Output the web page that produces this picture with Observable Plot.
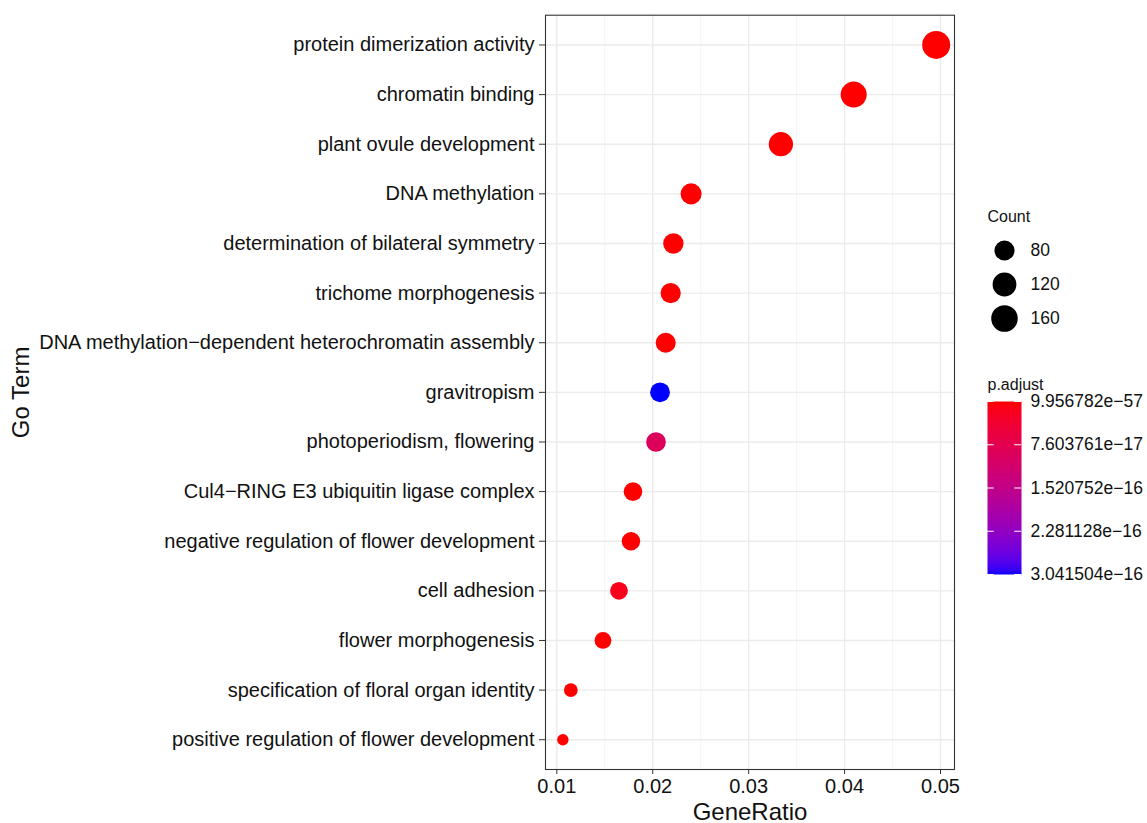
<!DOCTYPE html>
<html>
<head>
<meta charset="utf-8">
<script src="https://cdn.jsdelivr.net/npm/d3@7"></script>
<script src="https://cdn.jsdelivr.net/npm/@observablehq/plot@0.6"></script>
<style>
  html, body { margin: 0; padding: 0; background: #fff; }
  #wrap { position: relative; width: 1147px; height: 823px; font-family: "Liberation Sans", Arial, sans-serif; }
  #main { position: absolute; left: 0; top: 0; }
  #sizeLegend { position: absolute; left: 970px; top: 200px; }
  #colorLegend { position: absolute; left: 970px; top: 370px; }
</style>
</head>
<body>
<div id="wrap">
  <div id="main"></div>
  <div id="sizeLegend"></div>
  <div id="colorLegend"></div>
</div>
<script>
// ---- data (top to bottom) ----
const terms = [
  "protein dimerization activity",
  "chromatin binding",
  "plant ovule development",
  "DNA methylation",
  "determination of bilateral symmetry",
  "trichome morphogenesis",
  "DNA methylation\u2212dependent heterochromatin assembly",
  "gravitropism",
  "photoperiodism, flowering",
  "Cul4\u2212RING E3 ubiquitin ligase complex",
  "negative regulation of flower development",
  "cell adhesion",
  "flower morphogenesis",
  "specification of floral organ identity",
  "positive regulation of flower development"
];
const geneRatio = [0.04955, 0.04095, 0.03336, 0.02400, 0.02215, 0.02187, 0.02135, 0.02076, 0.02034, 0.01794, 0.01773, 0.01648, 0.01481, 0.01146, 0.01063];
const counts = [184, 152, 126, 89, 82, 81, 79, 77, 76, 67, 66, 61, 55, 43, 40];
const pAdjust = [9.956782e-57, 1.2e-50, 3.5e-40, 2.1e-35, 4.6e-30, 7.8e-28, 5.3e-32, 3.041504e-16, 9.2e-17, 1.8e-19, 6.5e-21, 1.6e-17, 2.4e-22, 3.7e-24, 8.1e-23];

const xTicks = [0.01, 0.02, 0.03, 0.04, 0.05];
const xMinorTicks = [0.015, 0.025, 0.035, 0.045];
const xDomain = [0.00882, 0.05146];
const sizeLegendCounts = [80, 120, 160];
const colorTicks = [9.956782e-57, 7.603761e-17, 1.520752e-16, 2.281128e-16, 3.041504e-16];

const data = terms.map((t, i) => ({term: t, ratio: geneRatio[i], count: counts[i], p: pAdjust[i]}));

const countMin = d3.min(counts), countMax = d3.max(counts);
const rOpts = {type: "sqrt", domain: [0, countMax - countMin], range: [5.7, 14]};
const colorOpts = {type: "linear", domain: [colorTicks[0], colorTicks[colorTicks.length - 1]], range: ["red", "blue"], interpolate: "lab"};
const fontFamily = "'Liberation Sans', Arial, sans-serif";
const fmtExp = d => d.toExponential(6).replace("-", "\u2212");

// ---- main panel ----
const main = Plot.plot({
  width: 970,
  height: 823,
  marginLeft: 545,
  marginRight: 16,
  marginTop: 14.7,
  marginBottom: 54,
  style: {fontFamily, background: "white"},
  x: {domain: xDomain},
  y: {type: "point", domain: terms, padding: 0.6, round: false},
  r: rOpts,
  color: colorOpts,
  marks: [
    Plot.ruleX(xMinorTicks, {stroke: "#f0f0f0", strokeWidth: 0.8}),
    Plot.ruleX(xTicks, {stroke: "#ebebeb", strokeWidth: 1.4}),
    Plot.ruleY(terms, {stroke: "#ebebeb", strokeWidth: 1.4}),
    Plot.dot(data, {x: "ratio", y: "term", r: d => d.count - countMin, fill: "p"}),
    Plot.frame({stroke: "#333333", strokeWidth: 1.1}),
    Plot.axisX({ticks: xTicks, tickFormat: d3.format(".2f"), tickSize: 5, tickPadding: 4, fontSize: 20, stroke: "#333", fill: "#111",
      label: "GeneRatio", labelAnchor: "center", labelArrow: "none", labelOffset: 50}),
    Plot.axisY({tickSize: 6, tickPadding: 5, fontSize: 20, stroke: "#333", fill: "#111",
      label: "Go Term", labelAnchor: "center", labelOffset: 534})
  ]
});
main.querySelectorAll("[aria-label='x-axis label'] text, [aria-label='y-axis label'] text").forEach(t => {
  t.setAttribute("font-size", "24");
  t.style.fontSize = "24px";
  t.setAttribute("fill", "#111");
});
document.getElementById("main").appendChild(main);

// ---- size legend ----
const sizeLegend = Plot.plot({
  width: 177,
  height: 140,
  margin: 0,
  style: {fontFamily, background: "transparent"},
  x: {domain: [0, 1], range: [34, 60], axis: null},
  y: {type: "point", domain: sizeLegendCounts, range: [50, 118], padding: 0, round: false, axis: null},
  r: rOpts,
  marks: [
    Plot.text(["Count"], {frameAnchor: "top-left", dx: 17, dy: 10, lineAnchor: "top", fontSize: 16, fill: "#111"}),
    Plot.dot(sizeLegendCounts, {x: 0, y: d => d, r: d => d - countMin, fill: "black"}),
    Plot.text(sizeLegendCounts, {x: 1, y: d => d, text: d => String(d), textAnchor: "start", fontSize: 17.5, fill: "#111"})
  ]
});
document.getElementById("sizeLegend").appendChild(sizeLegend);

// ---- color bar legend ----
const colorLegend = Plot.plot({
  width: 177,
  height: 220,
  marginLeft: 17,
  marginRight: 126,
  marginTop: 31,
  marginBottom: 16,
  style: {fontFamily, background: "transparent", overflow: "visible"},
  x: {domain: [0, 1], axis: null},
  y: {domain: colorOpts.domain, range: [31, 204], axis: null},
  color: colorOpts,
  marks: [
    Plot.raster({x1: 0, x2: 1, y1: colorOpts.domain[0], y2: colorOpts.domain[1], width: 1, height: 173, fill: (x, y) => y, imageRendering: "auto"}),
    Plot.ruleY(colorTicks, {x1: 0, x2: 0.2, stroke: "white", strokeWidth: 1}),
    Plot.ruleY(colorTicks, {x1: 0.8, x2: 1, stroke: "white", strokeWidth: 1}),
    Plot.axisY({anchor: "right", ticks: colorTicks, tickFormat: fmtExp, tickSize: 0, tickPadding: 9, fontSize: 17.5, fill: "#111", label: null}),
    Plot.text(["p.adjust"], {frameAnchor: "top-left", dx: 0, dy: -23, lineAnchor: "top", fontSize: 16, fill: "#111"})
  ]
});
document.getElementById("colorLegend").appendChild(colorLegend);
</script>
</body>
</html>
